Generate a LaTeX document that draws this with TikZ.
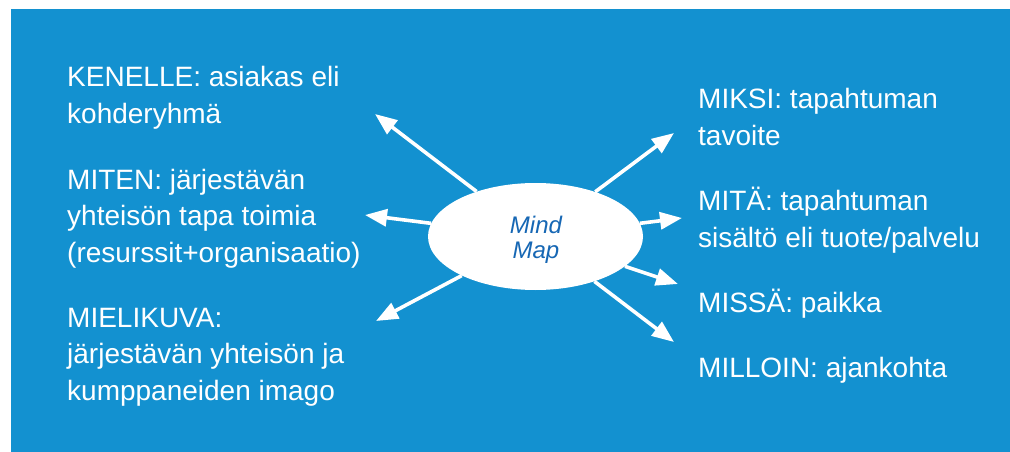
\documentclass[tikz,border=0pt]{standalone}
\usepackage{fontspec}
\setmainfont{Liberation Sans}
\usetikzlibrary{shapes.geometric,arrows.meta}
\definecolor{panelblue}{RGB}{19,145,208}
\definecolor{hubblue}{RGB}{22,103,180}
\tikzset{
  label text/.style={anchor=base west, inner sep=0pt, align=left, text=white,
    font=\fontsize{28}{36.5}\selectfont},
  spoke/.style={draw=white, line width=3.6pt,
    -{Triangle[length=22pt,width=17pt]}},
  hub/.style={ellipse, fill=white, inner sep=0pt, minimum width=215pt,
    minimum height=107pt},
  hub text/.style={text=hubblue, inner sep=0pt, align=center,
    font=\fontsize{24}{25}\selectfont\itshape}
}
\begin{document}
\begin{tikzpicture}[x=1pt,y=-1pt]
  % page and blue panel
  \useasboundingbox (0,0) rectangle (1010,452);
  \fill[white] (0,0) rectangle (1010,452);
  \fill[panelblue] (11,9) rectangle (1010,452);

  % arrow end points
  \coordinate (tKenelle) at (375,114);
  \coordinate (tMiten) at (365,215);
  \coordinate (tMielikuva) at (376,321);
  \coordinate (tMiksi) at (674,133);
  \coordinate (tMita) at (682,218);
  \coordinate (tMissa) at (678,284);
  \coordinate (tMilloin) at (674,342);

  % centre
  \node[hub] (hub) at (535.5,236.5) {};
  \node[hub text] (hubtext) at (536,240) {Mind\\Map};

  \foreach \t in {tKenelle,tMiten,tMielikuva,tMiksi,tMita,tMissa,tMilloin}
    \draw[spoke] (hub) -- (\t);

  % left labels (placed by the baseline of their last line)
  \node[label text] (kenelle) at (67,123) {KENELLE: asiakas eli\\kohderyhmä};
  \node[label text] (miten) at (67,262) {MITEN: järjestävän\\yhteisön tapa toimia\\(resurssit+organisaatio)};
  \node[label text] (mielikuva) at (67,400) {MIELIKUVA:\\järjestävän yhteisön ja\\kumppaneiden imago};

  % right labels
  \node[label text] (miksi) at (698,145) {MIKSI: tapahtuman\\tavoite};
  \node[label text] (mita) at (698,247) {MITÄ: tapahtuman\\sisältö eli tuote/palvelu};
  \node[label text] (missa) at (698,312) {MISSÄ: paikka};
  \node[label text] (milloin) at (698,377) {MILLOIN: ajankohta};
\end{tikzpicture}
\end{document}
